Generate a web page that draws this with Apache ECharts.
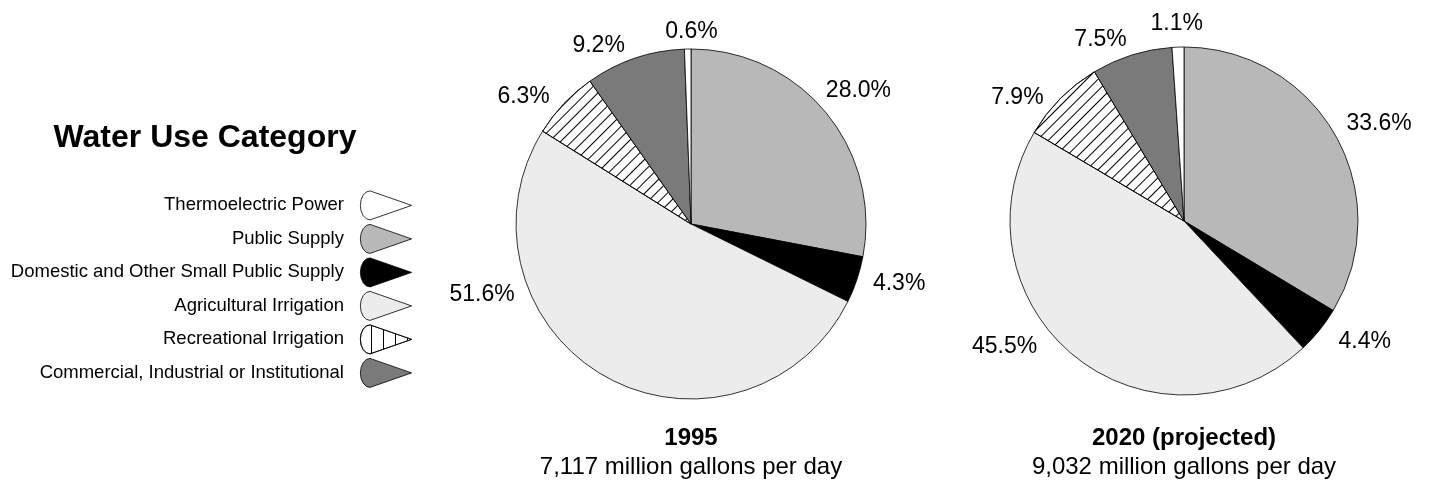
<!DOCTYPE html>
<html>
<head>
<meta charset="utf-8">
<title>Water Use Category</title>
<script src="https://cdn.jsdelivr.net/npm/echarts@6/dist/echarts.min.js"></script>
<style>
  html, body { margin: 0; padding: 0; background: #fff; }
  #chart { width: 1432px; height: 493px; }
</style>
</head>
<body>
<div id="chart"></div>
<script>
// slice order, clockwise from 12 o'clock
const categories = [
  'Public Supply',
  'Domestic and Other Small Public Supply',
  'Agricultural Irrigation',
  'Recreational Irrigation',
  'Commercial, Industrial or Institutional',
  'Thermoelectric Power'
];
const values1995 = [28.0, 4.3, 51.6, 6.3, 9.2, 0.6];
const values2020 = [33.6, 4.4, 45.5, 7.9, 7.5, 1.1];

// legend reads top to bottom in this order
const legendOrder = [
  'Thermoelectric Power',
  'Public Supply',
  'Domestic and Other Small Public Supply',
  'Agricultural Irrigation',
  'Recreational Irrigation',
  'Commercial, Industrial or Institutional'
];

const years = ['1995', '2020 (projected)'];
const totals = ['7,117 million gallons per day', '9,032 million gallons per day'];

// greys used in the original print
const fills = ['#b8b8b8', '#000000', '#ececec', '#ffffff', '#7a7a7a', '#ffffff'];

// label nudges away from the default outside position (label styling only)
const nudge1995 = [[0, -22], [16, 4], [-91, -82], [-14, -7], [-10, -13], [30, -17]];
const nudge2020 = [[11, -12], [19, 11], [-38, -10], [-17, -1], [-5, -15], [25, -23]];

const FONT = '"Liberation Sans", Arial, Helvetica, sans-serif';

// "/" hatching inside the pie
const hatch = {
  symbol: 'rect',
  symbolSize: 1,
  color: '#000',
  dashArrayX: [1, 0],
  dashArrayY: [1, 6.6],
  rotation: -Math.PI / 4
};

// vertical stripes on the legend swatch
const stripes = {
  symbol: 'rect',
  symbolSize: 1,
  color: '#000',
  dashArrayX: [1, 11],
  dashArrayY: [1, 0],
  rotation: 0
};

function buildData(values) {
  return values.map((v, i) => {
    const item = {
      name: categories[i],
      value: v,
      itemStyle: { color: fills[i] }
    };
    if (categories[i] === 'Recreational Irrigation') {
      item.itemStyle.decal = hatch;
    }
    return item;
  });
}

function pieSeries(name, values, center, radius, nudge) {
  return {
    name: name,
    type: 'pie',
    center: center,
    radius: radius,
    startAngle: 90,
    clockwise: true,
    avoidLabelOverlap: false,
    animation: false,
    emphasis: { disabled: true },
    itemStyle: { borderColor: '#000', borderWidth: 0.8 },
    label: {
      show: true,
      position: 'outside',
      alignTo: 'none',
      distanceToLabelLine: 0,
      fontFamily: FONT,
      fontSize: 23,
      color: '#000',
      formatter: (p) => p.value.toFixed(1) + '%'
    },
    labelLine: { show: false, length: 0, length2: 0 },
    labelLayout: (p) => ({ dx: nudge[p.dataIndex][0], dy: nudge[p.dataIndex][1] }),
    data: buildData(values)
  };
}

const chart = echarts.init(document.getElementById('chart'), null, { renderer: 'canvas' });

const option = {
  backgroundColor: '#fff',
  animation: false,
  textStyle: { fontFamily: FONT },
  title: [
    {
      text: 'Water Use Category',
      left: 205,
      top: 122,
      padding: 0,
      textAlign: 'center',
      textVerticalAlign: 'top',
      textStyle: { fontFamily: FONT, fontSize: 32, fontWeight: 'bold', color: '#000' }
    },
    {
      text: years[0],
      subtext: totals[0],
      left: 691,
      top: 426,
      padding: 0,
      itemGap: 5.5,
      textAlign: 'center',
      textVerticalAlign: 'top',
      textStyle: { fontFamily: FONT, fontSize: 24, fontWeight: 'bold', color: '#000' },
      subtextStyle: { fontFamily: FONT, fontSize: 24, color: '#000' }
    },
    {
      text: years[1],
      subtext: totals[1],
      left: 1184,
      top: 426,
      padding: 0,
      itemGap: 5.5,
      textAlign: 'center',
      textVerticalAlign: 'top',
      textStyle: { fontFamily: FONT, fontSize: 24, fontWeight: 'bold', color: '#000' },
      subtextStyle: { fontFamily: FONT, fontSize: 24, color: '#000' }
    }
  ],
  legend: {
    orient: 'vertical',
    align: 'right',
    right: 1020,
    top: 190.5,
    padding: 0,
    itemWidth: 54,
    itemHeight: 29,
    itemGap: 3.7,
    selectedMode: false,
    icon: 'path://M53,15 L10,0 A10,15 0 0,0 10,30 Z',
    itemStyle: { borderColor: '#000', borderWidth: 0.8 },
    textStyle: { fontFamily: FONT, fontSize: 18.5, color: '#000', padding: [0, 10, 0, 0] },
    data: legendOrder.map((name) => {
      if (name === 'Recreational Irrigation') {
        return { name: name, itemStyle: { decal: stripes } };
      }
      return { name: name };
    })
  },
  series: [
    pieSeries('1995', values1995, [691, 224], 175, nudge1995),
    pieSeries('2020', values2020, [1184, 221], 174, nudge2020)
  ]
};

chart.setOption(option);
</script>
</body>
</html>
